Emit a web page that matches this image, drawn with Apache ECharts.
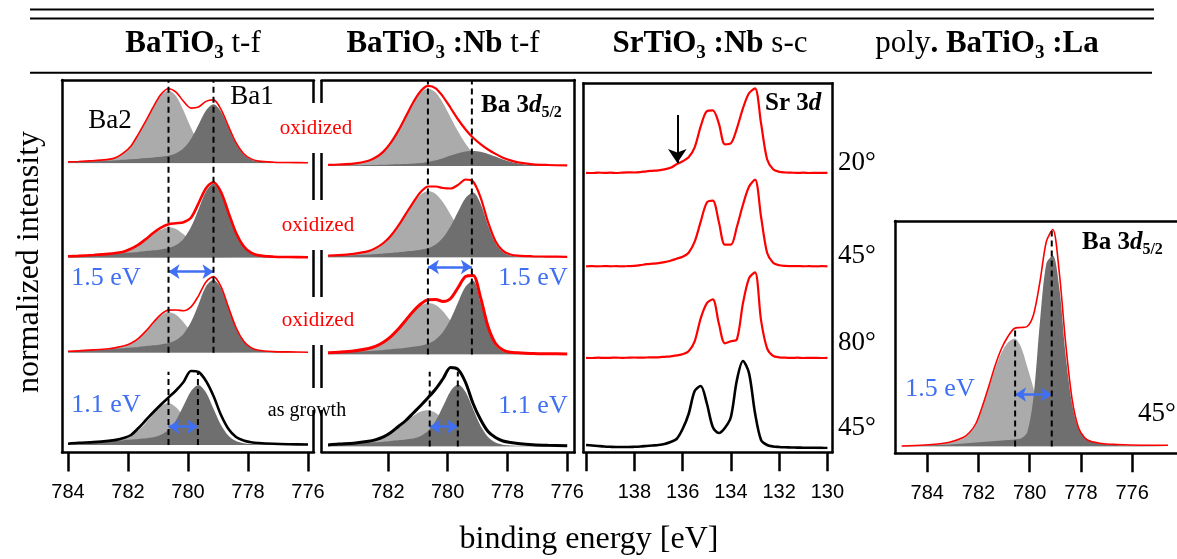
<!DOCTYPE html>
<html><head><meta charset="utf-8">
<script src="https://cdn.jsdelivr.net/npm/echarts@6/dist/echarts.min.js"></script>
<style>html,body{margin:0;padding:0;background:#fff}#c{width:1177px;height:559px}</style>
</head><body><div id="c"></div><script>
// ---------------- DATA ----------------
// Ba 3d5/2 energy grid (eV) for the two thin-film panels
const eBa = [784.0,783.65,783.15,782.65,782.4,782.15,781.9,781.65,781.4,781.15,780.9,780.65,780.4,780.15,779.9,779.65,779.4,779.15,778.9,778.65,778.4,778.15,777.9,777.65,777.15,776.65,776.0];
// panel 1 BaTiO3 t-f (heights above each spectrum's baseline)
const p1s1Ba2 = [1.3,1.7,2.5,3.7,5.5,10,17,29,42,56,68,72.9,67.4,52.9,35.5,20.6,10.2,4.4,2.2,1.3,0.9,0.7,0.6,0.5,0.4,0.3,0.2];
const p1s1Ba1 = [1.0,1.3,2.0,2.6,3.1,3.6,4.1,4.6,5.3,5.9,6.6,7.6,10.0,15.0,24.4,38.6,52.9,59,51.7,35.6,19.7,9.1,3.8,1.7,0.7,0.5,0.3];
const p1s1Env = [1.4,1.8,2.7,3.9,5.8,10.4,17.4,29.5,42.6,56.7,69,74.6,71.2,62.0,55.2,56.2,61.9,63.4,53.9,36.9,20.6,9.8,4.4,2.2,1.1,0.8,0.5];
const p1s2Ba2 = [1.2,1.7,2.5,3.5,4.4,5.6,8.5,12.5,18.0,24.0,28.0,30.4,28.8,23.5,16.5,9.7,4.6,1.5,0.8,0.5,0.3,0.3,0.2,0.2,0.1,0.1,0.1];
const p1s2Ba1 = [1.3,1.7,2.4,3.3,4.0,4.5,5.1,5.8,6.6,7.4,8.3,9.6,12.6,18.8,30.6,48.3,66.4,74,64.9,44.6,24.7,11.4,4.8,2.2,0.9,0.6,0.4];
const p1s2Env = [1.4,1.8,2.7,3.8,4.7,6.0,9.0,13.1,18.7,24.9,30.0,33.5,34.5,35.5,40.0,54.3,69.5,75.5,65.7,45.1,25.0,11.7,5.0,2.3,1.0,0.7,0.4];
const p1s3Ba2 = [1.3,1.7,2.6,3.7,4.7,6.2,9.0,13.8,21.1,29.6,37.1,40.4,37.9,30.5,21.1,12.3,5.9,2.1,1.1,0.7,0.5,0.4,0.3,0.3,0.2,0.2,0.1];
const p1s3Ba1 = [1.3,1.7,2.4,3.3,4.0,4.5,5.1,5.8,6.6,7.4,8.3,9.6,12.6,18.8,30.6,48.3,66.4,73,64.5,44.6,24.7,11.4,4.8,2.2,0.9,0.6,0.4];
const p1s3Env = [1.4,1.8,2.8,4.0,5.1,6.6,9.5,14.4,21.8,30.5,38.4,42.6,42.7,41.9,45.8,56.9,70.8,76.1,66.0,45.3,25.2,11.8,5.1,2.4,1.1,0.8,0.5];
const p1s4Ba2 = [1.2,2.1,2.8,4.0,4.9,6.5,9.6,14.7,22.3,31.2,39.2,42.0,37.7,28.2,17.8,9.4,4.8,2.3,1.2,0.7,0.5,0.4,0.3,0.3,0.2,0.2,0.1];
const p1s4Ba1 = [1.1,2.0,2.6,3.7,4.1,4.7,5.4,6.0,6.7,7.7,10.2,15.2,24.8,39.2,53.8,60,52.6,36.2,20.0,9.2,3.9,1.7,1.0,0.7,0.5,0.4,0.2];
const p1s4Env = [1.3,2.2,2.9,4.1,5.1,7.0,10,17,25,33,40.5,47.5,54.5,63,74,73,64,49,30,16,8,4.5,2.8,2.0,1.2,0.8,0.5];
// panel 2 BaTiO3:Nb t-f
const p2s1Ba2 = [1.1,1.4,2.2,5.1,8.5,14.2,23.1,35.0,49.0,62.9,73.5,77.5,73.4,62.6,48.6,34.4,22.3,13.2,7.7,4.4,2.7,1.7,1.3,1.0,0.8,0.6,0.5];
const p2s1Ba1 = [0.4,0.5,0.6,0.9,1.0,1.2,1.5,1.7,1.9,2.4,3.0,4.1,5.7,7.8,10.4,12.8,14.6,15,14.2,12.1,9.4,6.6,4.3,2.6,0.9,0.4,0.1];
const p2s1Env = [1.2,1.5,2.3,5.3,8.7,14.4,23.4,35.4,49.5,63.8,75.0,80.1,77.7,69.2,58.0,46.5,36.5,28.2,21.9,16.5,12.1,8.3,5.6,3.6,1.7,1.0,0.6];
const p2s2Ba2 = [1.7,2.1,3.4,6.1,9.2,14.0,21.3,31.2,42.8,54.2,63.0,66.5,63.6,55.0,42.8,29.9,18.6,10.4,6.1,3.5,2.1,1.4,1.0,0.8,0.6,0.5,0.4];
const p2s2Ba1 = [1.2,1.5,2.3,2.9,3.5,4.1,4.5,5.2,6.0,6.7,7.8,9.4,13.0,20.0,31.2,46.0,59.6,65,54.1,32.0,14.2,5.2,2.0,1.0,0.6,0.4,0.3];
const p2s2Env = [1.9,2.3,3.7,6.4,9.6,14.5,21.8,31.8,43.6,55.2,65.5,71,71,69.5,69,72.6,78,76,60.2,35.5,16.3,6.6,3.0,1.8,1.2,0.9,0.7];
const p2s3Ba2 = [1.6,2.1,3.2,5.6,8.0,11.8,17.3,24.7,33.4,42.1,48.7,51.4,49.5,43.0,33.4,23.2,14.2,7.7,4.4,2.6,1.5,1.0,0.7,0.6,0.4,0.4,0.3];
const p2s3Ba1 = [1.3,1.7,2.5,3.4,4.0,4.6,5.2,5.9,6.8,7.7,8.8,10.7,14.9,22.7,35.5,52.3,67.9,74,52,25,9,3,1.5,1.2,0.7,0.4,0.3];
const p2s3Env = [1.8,2.3,3.5,6.0,8.4,12.3,17.9,25.4,34.3,43.3,50.5,54.7,55,53,56,67,78,79,57,28,11,4.5,2.2,1.8,1.1,0.8,0.6];
const p2s4Ba2 = [1.4,2.3,3.2,5.1,6.8,9.5,13.6,18.8,24.7,30.4,34.9,36.2,33.4,27.3,20.0,13.3,8.6,5.2,3.0,1.7,1.1,0.7,0.5,0.4,0.3,0.2,0.2];
const p2s4Ba1 = [1.2,2.1,2.7,3.8,4.2,4.8,5.6,6.2,7.0,8.0,10.5,15.7,25.7,40.5,55.6,62,54.4,37.4,20.7,9.5,4.0,1.8,1.1,0.7,0.5,0.4,0.2];
const p2s4Env = [1.5,2.4,3.3,5.2,6.9,9.6,14,20,26,33.5,41,49,57.5,68,79,77,64,43,27,15,9,5.5,4,3,1.8,1.2,0.8];
// panel 3 SrTiO3:Nb s-c, Sr 3d
const eSr = [140,139.75,139.5,139.25,139,138.75,138.5,138.25,138,137.75,137.5,137.25,137,136.75,136.5,136.25,136,135.75,135.5,135.25,135,134.75,134.5,134.25,134,133.75,133.5,133.25,133,132.75,132.5,132.25,132,131.75,131.5,131.25,131,130.75,130.5,130.25,130];
const srA20 = [0.5,0.3,0.7,0.4,0.6,0.3,0.7,0.9,0.8,1.2,2.0,2.5,3.0,4.0,5.5,9,12,16,26,47,62,63,50,29,30,45,65,80,85,50,14,4,1.5,0.8,0.6,0.4,0.6,0.3,0.5,0.4,0.5];
const srA45 = [0.3,0.5,0.3,0.6,0.4,0.5,0.3,0.6,0.8,1.5,2.5,3.0,3.5,4.5,6,8,10,14,25,45,64,66,45,22,22,40,62,80,87,50,14,4,1.5,0.8,0.5,0.6,0.4,0.5,0.3,0.5,0.4];
const srA80 = [0.5,0.3,0.6,0.4,0.5,0.7,0.4,0.6,0.8,0.6,0.8,0.9,1.0,1.5,2,3,4,7,17,40,55,59,35,15,17,19,55,80,86,38,10,2.5,1.0,0.6,0.4,0.6,0.3,0.5,0.4,0.3,0.5];
const srRef45 = [3.0,2.5,2.0,1.5,1.2,1.0,1.0,1.0,1.2,1.5,2.0,2.5,3.0,4.0,6.0,9,19,34,57,62,45,21,15,20,31,68,87,75,35,8,3,1.5,1.0,0.7,0.5,0.4,0.3,0.2,0.2,0.1,0.0];
// panel 4 poly. BaTiO3:La
const eLa = [785.0,784.1,783.6,783.1,782.6,782.35,782.1,781.85,781.6,781.35,781.1,780.85,780.6,780.35,780.1,779.85,779.6,779.35,779.1,778.85,778.6,778.35,778.1,777.85,777.6,777.1,776.6,776.1,775.1,774.6];
const laBa2 = [0.4,1.2,2.2,4,8,13,21.5,38,58,78,94,104,108,100,80,58,35,20,10,5,3,2,1.5,1.2,1,0.8,0.6,0.5,0.3,0.3];
const laBa1 = [0.5,1,1.5,2,3,3.5,4,4.5,5,5.5,6,6.5,7,8,14,50,125,183,191,160,92,43,18,9,5.5,2.5,1.5,1,0.7,0.5];
const laEnv = [0.5,1.5,2.5,4.5,9,14,23,40,60,81,98,110,118,119,120,132,165,205,217,175,104,48,19,8.5,5,2.8,2,1.5,1.2,1.2];
// peak positions (eV) for the dashed guides
const peaksP1Ox = [780.65, 779.15], peaksP1Gr = [780.65, 779.67];
const peaksP2Ox = [780.66, 779.19], peaksP2Gr = [780.6, 779.66];
const peaksP4 = [780.57, 779.14];
const srShoulder = 136.22;
// ticks and tick labels
const ticksP1 = [784,782,780,778,776], labelsP1 = [784,782,780,778,776];
const ticksP2 = [782,780,778,776], labelsP2 = [782,780,778,776];
const ticksP3 = [140,138,136,134,132,130], labelsP3 = [138,136,134,132,130];
const ticksP4 = [784,782,780,778,776], labelsP4 = [784,782,780,778,776];

// ---------------- LAYOUT / STYLE ----------------
const SERIF = "'Liberation Serif','Times New Roman',serif";
const SANS = "Liberation Sans";
const LIGHT = '#ababab', DARK = '#6f6f6f', RED = '#ff0000', BLUE = '#3f6ff2';
const boxes = {
  p1:{l:62,t:80,w:252,h:372.5},
  p2:{l:321.5,t:80,w:253.2,h:372.5},
  p3:{l:583.4,t:83.3,w:249.1,h:369},
  p4:{l:895,t:221,w:300,h:232.3}
};
const ranges = {p1:[784.2,775.8], p2:[784.22,775.75], p3:[140.11,129.79], p4:[785.26,774.25]};

const grids=[], xAxes=[], yAxes=[], series=[];
const lineS = {color:'#000', width:2.5};
function gridOf(b){ grids.push({left:b.l, top:b.t, width:b.w, height:b.h, show:false, containLabel:false}); return grids.length-1; }
function addPlotGrid(b, xr, yMax){
  const gi = gridOf(b);
  xAxes.push({type:'value', gridIndex:gi, min:xr[1], max:xr[0], inverse:true, show:false});
  yAxes.push({type:'value', gridIndex:gi, min:0, max:yMax, show:false});
  return {x:xAxes.length-1, y:yAxes.length-1};
}
function hiddenAxisBits(){ return {axisTick:{show:false}, axisLabel:{show:false}, splitLine:{show:false}}; }
function addFrame(p, ticks, labels, sides){
  const b = boxes[p], xr = ranges[p];
  const gi = gridOf(b);
  xAxes.push({type:'value', gridIndex:gi, position:'bottom', min:xr[1], max:xr[0], inverse:true,
    axisLine:{show:true, onZero:false, lineStyle:lineS},
    axisTick:{show:true, inside:false, length:19, lineStyle:lineS, customValues:ticks},
    axisLabel:{show:true, customValues:labels, margin:30, color:'#000', fontFamily:SANS, fontSize:20},
    splitLine:{show:false}});
  xAxes.push(Object.assign({type:'value', gridIndex:gi, position:'top', min:xr[1], max:xr[0], inverse:true,
    axisLine:{show:true, onZero:false, lineStyle:lineS}}, hiddenAxisBits()));
  yAxes.push(Object.assign({type:'value', gridIndex:gi, position:'left', min:0, max:1,
    axisLine:{show:!!sides.left, onZero:false, lineStyle:lineS}}, hiddenAxisBits()));
  yAxes.push(Object.assign({type:'value', gridIndex:gi, position:'right', min:0, max:1,
    axisLine:{show:!!sides.right, onZero:false, lineStyle:lineS}}, hiddenAxisBits()));
}
function spectrum(p, baseline, H, E, layers){
  const b = boxes[p];
  const ax = addPlotGrid({l:b.l, t:baseline-H, w:b.w, h:H}, ranges[p], H);
  layers.forEach((L, k) => {
    const s = {type:'line', xAxisIndex:ax.x, yAxisIndex:ax.y, data:E.map((e,i)=>[e, L.v[i]]),
      showSymbol:false, symbol:'none', smooth:0.3, silent:true, animation:false, z:3 + k,
      lineStyle: L.fill ? {width:0, opacity:0} : {color:L.stroke, width:L.width}};
    if (L.fill) s.areaStyle = {color:L.fill, opacity:1, origin:'start'};
    series.push(s);
  });
  return ax;
}
function arrowMark(ax, a, b, color, width, sym, size){
  series.push({type:'line', xAxisIndex:ax.x, yAxisIndex:ax.y, data:[], silent:true, animation:false, z:8,
    markLine:{silent:true, animation:false, symbol:sym, symbolSize:size, label:{show:false},
      lineStyle:{color:color, width:width, type:'solid'}, emphasis:{disabled:true},
      data:[[{coord:a},{coord:b}]]}});
}
function dashes(p, top, bottom, peaks){
  const b = boxes[p];
  const ax = addPlotGrid({l:b.l, t:top, w:b.w, h:bottom-top}, ranges[p], 1);
  peaks.forEach(pk => series.push({type:'line', xAxisIndex:ax.x, yAxisIndex:ax.y, data:[[pk,0],[pk,1]],
    showSymbol:false, symbol:'none', silent:true, animation:false, z:7,
    lineStyle:{color:'#000', width:2, type:[6,4]}}));
}
function fit(ba2, ba1, env, envColor, envWidth){
  return [{v:ba2, fill:LIGHT}, {v:ba1, fill:DARK}, {v:env, stroke:envColor, width:envWidth}];
}

// frames
addFrame('p1', ticksP1, labelsP1, {left:true});
addFrame('p2', ticksP2, labelsP2, {right:true});
addFrame('p3', ticksP3, labelsP3, {left:true, right:true});
addFrame('p4', ticksP4, labelsP4, {left:true});

// panel 1
spectrum('p1', 163.3, 100, eBa, fit(p1s1Ba2, p1s1Ba1, p1s1Env, RED, 1.6));
spectrum('p1', 257.7, 100, eBa, fit(p1s2Ba2, p1s2Ba1, p1s2Env, RED, 2.6));
const p1s3 = spectrum('p1', 352.7, 100, eBa, fit(p1s3Ba2, p1s3Ba1, p1s3Env, RED, 1.6));
const p1s4 = spectrum('p1', 445, 100, eBa, fit(p1s4Ba2, p1s4Ba1, p1s4Env, '#000', 2.6));
dashes('p1', 80, 352.7, peaksP1Ox);
dashes('p1', 371.7, 445, peaksP1Gr);
arrowMark(p1s3, [peaksP1Ox[0], 81], [peaksP1Ox[1], 81], BLUE, 2.5, ['arrow','arrow'], 11);
arrowMark(p1s4, [peaksP1Gr[0], 18.3], [peaksP1Gr[1], 18.3], BLUE, 2.5, ['arrow','arrow'], 11);

// panel 2
spectrum('p2', 166, 100, eBa, fit(p2s1Ba2, p2s1Ba1, p2s1Env, RED, 2.2));
spectrum('p2', 257.5, 100, eBa, fit(p2s2Ba2, p2s2Ba1, p2s2Env, RED, 2.2));
const p2s3 = spectrum('p2', 354.5, 100, eBa, fit(p2s3Ba2, p2s3Ba1, p2s3Env, RED, 3));
const p2s4 = spectrum('p2', 446.5, 100, eBa, fit(p2s4Ba2, p2s4Ba1, p2s4Env, '#000', 3));
dashes('p2', 80, 354.5, peaksP2Ox);
dashes('p2', 371.7, 446.5, peaksP2Gr);
arrowMark(p2s3, [peaksP2Ox[0], 87.5], [peaksP2Ox[1], 87.5], BLUE, 2.5, ['arrow','arrow'], 11);
arrowMark(p2s4, [peaksP2Gr[0], 19.8], [peaksP2Gr[1], 19.8], BLUE, 2.5, ['arrow','arrow'], 11);

// panel 3
const p3s1 = spectrum('p3', 173.3, 100, eSr, [{v:srA20, stroke:RED, width:2.2}]);
spectrum('p3', 266.7, 100, eSr, [{v:srA45, stroke:RED, width:2.2}]);
spectrum('p3', 358.3, 100, eSr, [{v:srA80, stroke:RED, width:2.2}]);
spectrum('p3', 448, 100, eSr, [{v:srRef45, stroke:'#000', width:2.6}]);
arrowMark(p3s1, [srShoulder, 58.3], [srShoulder, 10.3], '#000', 2, ['none','arrow'], 14);

// panel 4
const p4s = spectrum('p4', 446.5, 230, eLa, fit(laBa2, laBa1, laEnv, RED, 1.6));
dashes('p4', 330, 446.5, [peaksP4[0]]);
dashes('p4', 231, 446.5, [peaksP4[1]]);
arrowMark(p4s, [peaksP4[0], 52], [peaksP4[1], 52], BLUE, 2.5, ['arrow','arrow'], 11);

// ---------------- TEXT / DECORATION ----------------
const RH = {
  b:{fontFamily:SERIF, fontWeight:'bold', fontSize:31, fill:'#000', color:'#000'},
  s:{fontFamily:SERIF, fontWeight:'bold', fontSize:19, fill:'#000', color:'#000', padding:[19,0,0,0]},
  n:{fontFamily:SERIF, fontSize:31, fill:'#000', color:'#000'}
};
const RL = {
  b:{fontFamily:SERIF, fontWeight:'bold', fontSize:25, fill:'#000', color:'#000'},
  bi:{fontFamily:SERIF, fontWeight:'bold', fontStyle:'italic', fontSize:25, fill:'#000', color:'#000'},
  s:{fontFamily:SERIF, fontWeight:'bold', fontSize:16, fill:'#000', color:'#000', padding:[14,0,0,0]}
};
function T(x, y, text, font, fill, align, extra){
  return Object.assign({type:'text', x:x, y:y, silent:true, z:20,
    style:{text:text, font:font, fill:fill||'#000', align:align||'center', textAlign:align||'center',
      verticalAlign:'middle', textVerticalAlign:'middle'}}, extra||{});
}
function R(x, y, text, rich, align){
  return {type:'text', x:x, y:y, silent:true, z:20,
    style:{text:text, rich:rich, align:align||'center', textAlign:align||'center', verticalAlign:'middle', textVerticalAlign:'middle'}};
}
function HL(x1, x2, y, w){ return {type:'line', silent:true, z:20, shape:{x1:x1, y1:y, x2:x2, y2:y}, style:{stroke:'#000', lineWidth:w}}; }
function VL(x, y1, y2, w){ return {type:'line', silent:true, z:20, shape:{x1:x, y1:y1, x2:x, y2:y2}, style:{stroke:'#000', lineWidth:w}}; }

const els = [
  HL(30, 1154, 9.5, 2), HL(30, 1154, 18.5, 2), HL(30, 1152, 72.7, 2),
  R(193, 44, '{b|BaTiO}{s|3}{n| t-f}', RH),
  R(443, 44, '{b|BaTiO}{s|3}{b| :Nb}{n| t-f}', RH),
  R(710, 44, '{b|SrTiO}{s|3}{b| :Nb}{n| s-c}', RH),
  R(987, 44, '{n|poly}{b|. BaTiO}{s|3}{b| :La}', RH),
  T(110, 121, 'Ba2', '27px ' + SERIF),
  T(252, 97, 'Ba1', '27px ' + SERIF),
  T(316, 128, 'oxidized', '21px ' + SERIF, RED),
  T(318, 225, 'oxidized', '21px ' + SERIF, RED),
  T(318, 320, 'oxidized', '21px ' + SERIF, RED),
  T(307, 411, 'as growth', '20px ' + SERIF, '#000'),
  T(106, 278, '1.5 eV', '26px ' + SERIF, BLUE),
  T(106, 405, '1.1 eV', '26px ' + SERIF, BLUE),
  T(533, 278, '1.5 eV', '26px ' + SERIF, BLUE),
  T(533, 406, '1.1 eV', '26px ' + SERIF, BLUE),
  T(940, 389, '1.5 eV', '26px ' + SERIF, BLUE),
  R(481, 106, '{b|Ba 3}{bi|d}{s|5/2}', RL, 'left'),
  R(765, 104, '{b|Sr 3}{bi|d}', RL, 'left'),
  R(1082, 243, '{b|Ba 3}{bi|d}{s|5/2}', RL, 'left'),
  T(857, 163, '20°', '27px ' + SERIF),
  T(857, 256, '45°', '27px ' + SERIF),
  T(857, 343, '80°', '27px ' + SERIF),
  T(857, 428, '45°', '27px ' + SERIF),
  T(1157, 414, '45°', '27px ' + SERIF),
  T(30, 262, 'normalized intensity', '32px ' + SERIF, '#000', 'center', {rotation: Math.PI/2}),
  T(589, 540, 'binding energy [eV]', '32px ' + SERIF)
];
[[80,103],[153,200],[250,297],[345,388],[410,452.5]].forEach(s => { els.push(VL(313.5, s[0], s[1], 2.5)); els.push(VL(321.5, s[0], s[1], 2.5)); });

const chart = echarts.init(document.getElementById('c'), null, {renderer:'canvas'});
chart.setOption({
  animation:false,
  backgroundColor:'#fff',
  textStyle:{fontFamily:SERIF},
  grid:grids, xAxis:xAxes, yAxis:yAxes, series:series,
  graphic:{elements:els}
});
</script></body></html>
